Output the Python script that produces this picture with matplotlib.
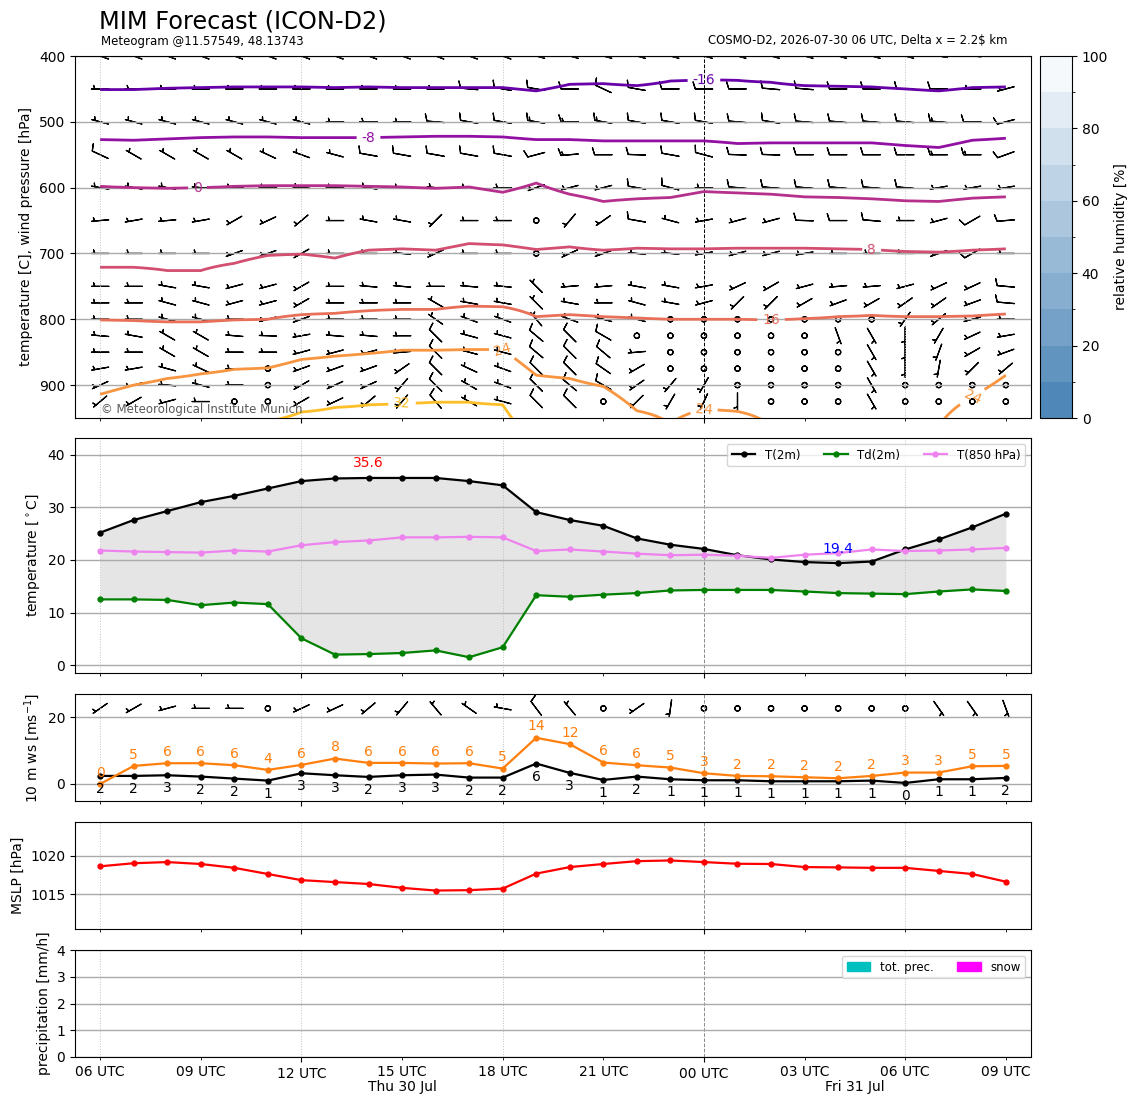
import numpy as np
import matplotlib
matplotlib.use('Agg')
import matplotlib.pyplot as plt
from matplotlib.colors import ListedColormap, BoundaryNorm
from matplotlib.cm import ScalarMappable
from matplotlib.patches import Patch
import matplotlib.transforms as mtransforms

# ---------------- data ----------------
hours = np.arange(28)                       # 06 UTC Thu .. 09 UTC Fri
tick_hours = [0, 3, 6, 9, 12, 15, 18, 21, 24, 27]
tick_labels = ['06 UTC', '09 UTC', '12 UTC', '15 UTC', '18 UTC',
               '21 UTC', '00 UTC', '03 UTC', '06 UTC', '09 UTC']
major_hours = [6, 18]
date_labels = ['Thu 30 Jul', 'Fri 31 Jul']
date_label_hours = [9, 22.5]

t2m = [25.2, 27.6, 29.3, 31.0, 32.2, 33.6, 35.0, 35.5, 35.6, 35.6, 35.6, 35.0, 34.2, 29.1,
       27.6, 26.5, 24.1, 22.9, 22.1, 20.9, 20.1, 19.6, 19.4, 19.7, 22.0, 23.9, 26.2, 28.8]
td2m = [12.5, 12.5, 12.4, 11.4, 11.9, 11.6, 5.1, 2.0, 2.1, 2.3, 2.8, 1.5, 3.4, 13.3,
        13.0, 13.4, 13.7, 14.2, 14.3, 14.3, 14.3, 14.0, 13.7, 13.6, 13.5, 14.0, 14.4, 14.1]
t850 = [21.8, 21.6, 21.5, 21.4, 21.8, 21.6, 22.8, 23.4, 23.7, 24.3, 24.3, 24.4, 24.3, 21.7,
        22.0, 21.6, 21.2, 20.9, 21.0, 20.8, 20.4, 21.0, 21.3, 22.0, 21.7, 21.8, 22.0, 22.3]

ws10 = [2.4, 2.4, 2.6, 2.2, 1.6, 1.0, 3.2, 2.6, 2.1, 2.6, 2.8, 1.9, 1.9, 6.1,
        3.3, 1.2, 2.2, 1.4, 1.1, 1.1, 0.8, 0.8, 0.8, 1.0, 0.3, 1.4, 1.4, 1.8]
gust10 = [0.0, 5.4, 6.2, 6.2, 5.6, 4.2, 5.7, 7.6, 6.3, 6.3, 6.1, 6.2, 4.6, 13.8,
          11.9, 6.4, 5.6, 4.9, 3.2, 2.4, 2.3, 2.0, 1.7, 2.4, 3.4, 3.4, 5.3, 5.4]
wd10 = [235, 240, 255, 270, 270, 270, 245, 245, 230, 220, 320, 305, 280, 323,
        320, 270, 235, 188, 270, 270, 270, 270, 270, 270, 270, 145, 145, 160]

mslp = [1018.6, 1019.0, 1019.15, 1018.9, 1018.4, 1017.6, 1016.8, 1016.55, 1016.3, 1015.8,
        1015.45, 1015.5, 1015.7, 1017.65, 1018.5, 1018.9, 1019.27, 1019.36, 1019.15, 1018.93,
        1018.9, 1018.5, 1018.46, 1018.4, 1018.4, 1018.0, 1017.6, 1016.6]

precip = [0.0] * 28
snow = [0.0] * 28

# isotherm pressures (hPa) read from the cross section, per hour
iso_levels = [-16, -8, 0, 8, 16, 24, 32]
iso_m16 = [451, 451, 449, 448, 447, 447, 447, 448, 447, 448, 448, 448, 448, 453,
           443, 442, 445, 438, 436, 437, 440, 445, 446, 447, 450, 453, 448, 447]
iso_m8 = [527, 528, 526, 524, 523, 523, 524, 524, 524, 523, 522, 522, 523, 527,
          527, 529, 529, 529, 529, 533, 532, 532, 532, 532, 536, 539, 528, 525]
iso_0 = [598, 600, 601, 600, 598, 597, 597, 597, 598, 599, 601, 599, 607, 593,
         610, 621, 617, 615, 606, 608, 610, 614, 615, 617, 620, 621, 616, 614]
iso_8 = [721, 721, 726, 726, 715, 703, 701, 707, 695, 693, 695, 685, 687, 694,
         690, 695, 692, 693, 693, 692, 692, 692, 693, 694, 697, 698, 695, 693]
iso_16 = [801, 802, 804, 804, 801, 800, 793, 791, 787, 785, 785, 780, 781, 796,
          793, 796, 798, 800, 800, 800, 801, 799, 796, 794, 796, 796, 795, 792]
iso_24 = [914, 900, 890, 883, 876, 874, 861, 856, 852, 847, 847, 846, 846, 885,
          890, 902, 939, 959, 937, 940, 962, 972, 975, 975, 972, 962, 918, 885]
iso_32 = [1020, 1010, 1000, 990, 975, 955, 941, 934, 930, 928, 926, 926, 930, 995,
          1020, 1020, 1020, 1020, 1020, 1020, 1020, 1020, 1020, 1020, 1020, 1020, 1020, 1020]

# upper-air wind: direction (deg, from) and speed (kt) per level and hour
wind_levels = [400, 450, 500, 550, 600, 650, 700, 750, 775, 800, 825, 850, 875, 900, 925]
wdir_400 = [290, 290, 290, 290, 290, 290, 290, 290, 290, 290, 290, 290, 290, 285,
            285, 285, 285, 285, 285, 285, 285, 285, 285, 285, 285, 280, 275, 270]
wspd_400 = [10, 10, 10, 10, 10, 10, 10, 10, 10, 10, 10, 10, 10, 10,
            10, 10, 10, 10, 10, 10, 10, 10, 10, 10, 10, 10, 10, 10]
wdir_450 = [270, 270, 270, 270, 270, 270, 270, 270, 270, 270, 270, 275, 280, 280,
            270, 295, 280, 270, 270, 270, 275, 275, 270, 270, 272, 270, 270, 255]
wspd_450 = [5, 5, 5, 5, 5, 5, 5, 5, 5, 5, 5, 10, 10, 10,
            10, 10, 10, 10, 10, 10, 10, 10, 10, 10, 10, 10, 5, 5]
wdir_500 = [285, 285, 285, 285, 285, 285, 285, 270, 270, 270, 275, 280, 280, 280,
            270, 280, 280, 280, 280, 275, 280, 275, 275, 275, 275, 275, 270, 255]
wspd_500 = [5, 5, 5, 5, 5, 5, 5, 5, 5, 5, 10, 10, 10, 15,
            15, 15, 10, 10, 10, 10, 10, 10, 10, 10, 10, 15, 10, 10]
wdir_550 = [295, 300, 300, 300, 300, 295, 290, 285, 280, 280, 280, 280, 280, 255,
            265, 270, 272, 280, 285, 272, 272, 270, 270, 270, 270, 270, 270, 250]
wspd_550 = [10, 5, 5, 5, 5, 5, 5, 5, 10, 10, 10, 10, 10, 10,
            15, 10, 10, 10, 10, 10, 10, 10, 10, 10, 10, 15, 15, 10]
wdir_600 = [280, 280, 280, 275, 270, 270, 275, 270, 280, 270, 275, 270, 270, 250,
            255, 255, 280, 285, 270, 275, 275, 275, 275, 275, 275, 260, 260, 260]
wspd_600 = [5, 5, 5, 5, 5, 5, 5, 5, 5, 5, 5, 5, 5, 5,
            5, 5, 10, 10, 5, 10, 10, 10, 10, 10, 10, 5, 5, 5]
wdir_650 = [265, 260, 265, 260, 240, 245, 230, 270, 280, 280, 225, 270, 270, 270,
            220, 235, 280, 285, 260, 255, 255, 272, 270, 275, 270, 255, 240, 265]
wspd_650 = [5, 5, 5, 5, 5, 5, 5, 5, 5, 5, 5, 5, 5, 0,
            5, 5, 10, 5, 5, 5, 5, 10, 10, 10, 5, 5, 10, 10]
wdir_700 = [270, 270, 270, 270, 250, 250, 240, 270, 270, 275, 245, 270, 270, 270,
            245, 250, 275, 275, 260, 255, 255, 260, 270, 270, 270, 250, 240, 270]
wspd_700 = [5, 5, 5, 5, 5, 5, 5, 5, 5, 5, 5, 5, 5, 0,
            5, 5, 5, 5, 5, 5, 5, 5, 5, 5, 5, 5, 10, 5]
wdir_750 = [270, 270, 280, 280, 255, 255, 240, 270, 275, 275, 270, 275, 275, 315,
            265, 265, 280, 280, 260, 245, 240, 255, 265, 265, 255, 245, 245, 275]
wspd_750 = [5, 5, 5, 5, 5, 5, 5, 5, 5, 5, 5, 5, 5, 5,
            5, 5, 5, 5, 5, 5, 5, 5, 5, 5, 5, 5, 5, 10]
wdir_775 = [270, 270, 285, 285, 255, 255, 240, 270, 270, 270, 300, 280, 280, 315,
            280, 270, 285, 280, 255, 225, 225, 240, 250, 240, 235, 235, 250, 275]
wspd_775 = [5, 5, 5, 5, 5, 5, 5, 5, 5, 5, 5, 5, 5, 5,
            5, 5, 5, 5, 5, 5, 5, 5, 5, 5, 5, 5, 5, 10]
wdir_800 = [270, 270, 285, 285, 270, 255, 250, 270, 270, 270, 305, 290, 290, 320,
            290, 285, 285, 270, 270, 270, 270, 270, 270, 270, 215, 230, 255, 270]
wspd_800 = [5, 5, 5, 5, 5, 5, 5, 5, 5, 5, 5, 5, 5, 5,
            5, 5, 5, 0, 0, 0, 0, 0, 0, 0, 5, 5, 5, 5]
wdir_825 = [275, 280, 300, 300, 275, 272, 260, 275, 275, 270, 315, 285, 285, 310,
            315, 300, 270, 270, 270, 270, 270, 270, 160, 150, 180, 210, 245, 260]
wspd_825 = [5, 5, 5, 5, 5, 5, 5, 5, 5, 5, 10, 5, 5, 10,
            10, 10, 0, 0, 0, 0, 0, 0, 5, 5, 5, 5, 5, 5]
wdir_850 = [270, 270, 300, 300, 270, 270, 255, 255, 255, 265, 315, 285, 285, 310,
            315, 310, 265, 270, 270, 270, 270, 270, 270, 150, 180, 200, 240, 250]
wspd_850 = [5, 5, 5, 5, 5, 5, 5, 5, 5, 5, 10, 5, 5, 10,
            10, 10, 5, 0, 0, 0, 0, 0, 0, 5, 5, 5, 5, 5]
wdir_875 = [260, 260, 285, 295, 270, 270, 250, 250, 250, 235, 315, 295, 290, 315,
            315, 305, 240, 270, 270, 270, 270, 270, 270, 150, 180, 190, 225, 230]
wspd_875 = [5, 5, 5, 5, 5, 0, 5, 5, 5, 5, 10, 5, 5, 10,
            10, 10, 5, 0, 0, 0, 0, 0, 0, 5, 5, 5, 5, 5]
wdir_900 = [245, 255, 275, 285, 270, 270, 240, 245, 245, 220, 315, 300, 290, 315,
            310, 300, 235, 220, 210, 270, 270, 270, 270, 150, 270, 270, 270, 270]
wspd_900 = [5, 5, 5, 5, 5, 0, 5, 5, 5, 5, 10, 5, 5, 10,
            10, 10, 5, 5, 5, 0, 0, 0, 0, 5, 0, 0, 0, 0]
wdir_925 = [230, 240, 255, 270, 270, 270, 240, 245, 230, 220, 320, 300, 285, 315,
            315, 270, 225, 210, 205, 180, 270, 270, 270, 150, 270, 270, 270, 270]
wspd_925 = [5, 5, 5, 5, 0, 0, 5, 5, 5, 5, 10, 5, 5, 10,
            10, 0, 5, 5, 5, 5, 0, 0, 0, 5, 0, 0, 0, 0]

rh_levels = [0, 10, 20, 30, 40, 50, 60, 70, 80, 90, 100]

# ---------------- figure ----------------
fig = plt.figure(figsize=(11.48, 11.05), dpi=100)
W, H = 1148.0, 1105.0


def rect(x0, y0, x1, y1):
    return [x0 / W, 1 - y1 / H, (x1 - x0) / W, (y1 - y0) / H]


ax1 = fig.add_axes(rect(75, 56, 1031, 418))
ax2 = fig.add_axes(rect(75, 438, 1031, 673))
ax3 = fig.add_axes(rect(75, 694, 1031, 801))
ax4 = fig.add_axes(rect(75, 822, 1031, 929))
ax5 = fig.add_axes(rect(75, 950, 1031, 1057))
cax = fig.add_axes(rect(1040, 56, 1072, 418))
axes = [ax1, ax2, ax3, ax4, ax5]

grid_col = '#aaaaaa'


def uv(dirs, spds):
    d = np.deg2rad(np.asarray(dirs, float))
    s = np.asarray(spds, float)
    return -s * np.sin(d), -s * np.cos(d)


for ax in axes:
    ax.set_xlim(-0.75, 27.75)
    ax.set_xticks(major_hours)
    ax.set_xticks([h for h in tick_hours if h not in major_hours], minor=True)
    ax.yaxis.grid(True, color=grid_col, lw=1.0)
    ax.set_axisbelow('line')

# vertical guide lines
for ax in axes:
    for h in [0, 6, 12, 24]:
        ax.axvline(h, color='0.75', lw=0.7, ls=':', zorder=1.2)
    ax.axvline(18, color='k' if ax is ax1 else '0.55', lw=0.7, ls='--', zorder=1.2)

# ---- panel 1: cross section ----
p_grid = np.arange(380.0, 1061.0, 1.0)
iso_p = np.array([iso_m16, iso_m8, iso_0, iso_8, iso_16, iso_24, iso_32], float)
Tfield = np.empty((len(p_grid), len(hours)))
for h in hours:
    xp = np.concatenate(([380.0], iso_p[:, h], [1060.0]))
    fp = np.concatenate(([-24.0], iso_levels, [40.0]))
    Tfield[:, h] = np.interp(p_grid, xp, fp)

cs = ax1.contour(hours, p_grid, Tfield, levels=iso_levels, cmap='plasma',
                 vmin=-30, vmax=42, linewidths=2, zorder=3)
ax1.clabel(cs, inline=True, fmt='%d', fontsize=10,
           manual=[(18, 437), (8, 524), (2.9, 599), (23, 694), (20, 801),
                   (12, 846), (18, 937), (26, 918), (9, 928)])

wdirs = [wdir_400, wdir_450, wdir_500, wdir_550, wdir_600, wdir_650, wdir_700, wdir_750,
         wdir_775, wdir_800, wdir_825, wdir_850, wdir_875, wdir_900, wdir_925]
wspds = [wspd_400, wspd_450, wspd_500, wspd_550, wspd_600, wspd_650, wspd_700, wspd_750,
         wspd_775, wspd_800, wspd_825, wspd_850, wspd_875, wspd_900, wspd_925]
U, V = uv(wdirs, wspds)
HH, PP = np.meshgrid(hours, wind_levels)
ax1.barbs(HH, PP, U, V, length=5, pivot='middle', lw=0.9, color='k')

ax1.set_ylim(950, 400)
ax1.set_yticks([400, 500, 600, 700, 800, 900])
ax1.set_ylabel('temperature [C], wind pressure [hPa]')
ax1.text(0.027, 0.006, '\u00a9 Meteorological Institute Munich', transform=ax1.transAxes,
         fontsize=8.5, color='0.35', va='bottom', ha='left')

# colorbar
c0 = np.array([80, 135, 185]) / 255.0
c1 = np.array([245, 249, 252]) / 255.0
rh_cols = [c0 + (c1 - c0) * i / 9.0 for i in range(10)]
rh_cmap = ListedColormap(rh_cols)
rh_norm = BoundaryNorm(rh_levels, rh_cmap.N)
cb = fig.colorbar(ScalarMappable(norm=rh_norm, cmap=rh_cmap), cax=cax,
                  ticks=[0, 20, 40, 60, 80, 100])
cb.set_label('relative humidity [%]')

# ---- panel 2: temperatures ----
ax2.fill_between(hours, td2m, t2m, color='gray', alpha=0.2, lw=0)
ax2.plot(hours, t2m, '.-', color='k', lw=1.6, ms=7, label='T(2m)')
ax2.plot(hours, td2m, '.-', color='green', lw=1.6, ms=7, label='Td(2m)')
ax2.plot(hours, t850, '.-', color='violet', lw=1.6, ms=7, label='T(850 hPa)')
imax = int(np.argmax(t2m))
imin = int(np.argmin(t2m))
ax2.text(hours[imax], t2m[imax] + 1.5, '%.1f' % t2m[imax], color='red', ha='center',
         va='bottom', fontsize=10)
ax2.text(hours[imin], t2m[imin] + 1.4, '%.1f' % t2m[imin], color='blue', ha='center',
         va='bottom', fontsize=10)
ax2.set_ylim(-1.5, 43.2)
ax2.set_yticks([0, 10, 20, 30, 40])
ax2.set_ylabel('temperature [$^\\circ$C]')
ax2.legend(loc='upper right', ncol=3, fontsize=8.5)

# ---- panel 3: 10 m wind ----
ax3.plot(hours, ws10, '.-', color='k', lw=1.6, ms=7)
ax3.plot(hours, gust10, '.-', color='#ff7f0e', lw=1.6, ms=7)
for h, w, g in zip(hours, ws10, gust10):
    ax3.text(h, w - 3.9, '%.0f' % w, ha='center', va='center', fontsize=10, color='k')
    ax3.text(h, g + 3.4, '%.0f' % g, ha='center', va='center', fontsize=10, color='#ff7f0e')
u10, v10 = uv(wd10, np.asarray(ws10) * 1.94384)
ax3.barbs(hours, np.full(len(hours), 22.6), u10, v10, length=5, pivot='middle', lw=0.9,
          color='k')
ax3.set_ylim(-5.1, 26.9)
ax3.set_yticks([0, 20])
ax3.set_ylabel('10 m ws [ms$^{-1}$]')

# ---- panel 4: MSLP ----
ax4.plot(hours, mslp, '.-', color='red', lw=1.6, ms=7)
ax4.set_ylim(min(mslp) - 5, max(mslp) + 5)
ax4.set_yticks([1015, 1020])
ax4.set_ylabel('MSLP [hPa]')

# ---- panel 5: precipitation ----
ax5.bar(hours, precip, width=0.8, color='c')
ax5.bar(hours, snow, width=0.8, color='magenta')
ax5.set_ylim(0, 4)
ax5.set_yticks([0, 1, 2, 3, 4])
ax5.set_ylabel('precipitation [mm/h]')
ax5.legend(handles=[Patch(color='c', label='tot. prec.'), Patch(color='magenta', label='snow')],
           loc='upper right', ncol=2, fontsize=8.5)

# x tick labels only on bottom panel
for ax in axes[:-1]:
    ax.tick_params(axis='x', which='both', labelbottom=False)
ax5.set_xticklabels([tick_labels[tick_hours.index(h)] for h in major_hours])
ax5.set_xticklabels([tick_labels[tick_hours.index(h)] for h in tick_hours if h not in major_hours],
                    minor=True)
trans = mtransforms.blended_transform_factory(ax5.transData, ax5.transAxes)
for lab, h in zip(date_labels, date_label_hours):
    ax5.text(h, -0.28, lab, transform=trans, ha='center', va='center', fontsize=10)

# titles
fig.text(99 / W, 1 - 22 / H, 'MIM Forecast (ICON-D2)', fontsize=17.3, va='center', ha='left')
fig.text(101 / W, 1 - 41 / H, 'Meteogram @11.57549, 48.13743', fontsize=8.5, va='center',
         ha='left')
fig.text(1008 / W, 1 - 41 / H, 'COSMO-D2, 2026-07-30 06 UTC, Delta x = 2.2$ km', fontsize=8.4,
         va='center', ha='right')

fig.savefig('out.png', dpi=100)
